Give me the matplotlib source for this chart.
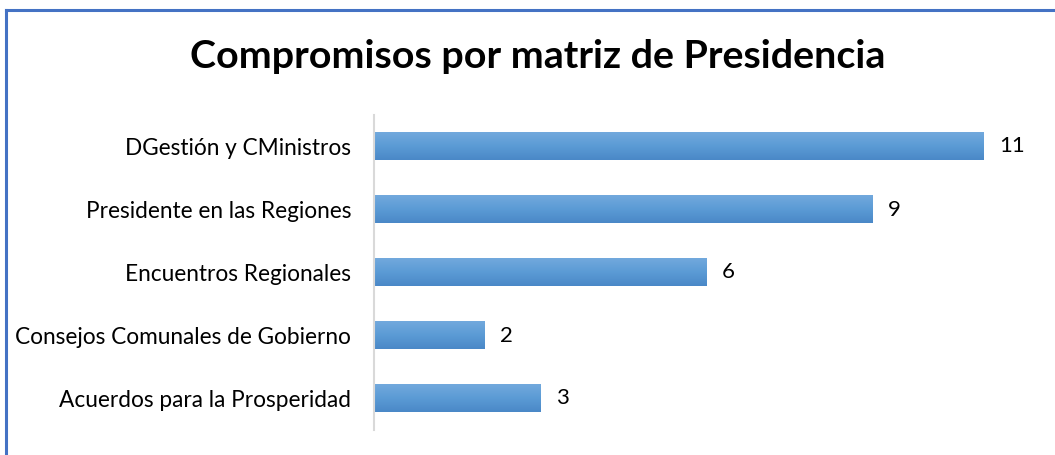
import matplotlib.pyplot as plt
import numpy as np
from matplotlib.colors import LinearSegmentedColormap
from matplotlib.lines import Line2D

# Data (top to bottom as shown)
categories = ['DGestión y CMinistros', 'Presidente en las Regiones',
              'Encuentros Regionales', 'Consejos Comunales de Gobierno',
              'Acuerdos para la Prosperidad']
values = [11, 9, 6, 2, 3]
title = 'Compromisos por matriz de Presidencia'

plt.rcParams['font.family'] = ['Lato', 'DejaVu Sans']

fig = plt.figure(figsize=(10.55, 4.55), dpi=100)
ax = fig.add_axes([374 / 1055, 1 - 430 / 455, 665 / 1055, 315 / 455])

# gradient bars: lighter at top, darker at bottom
cmap = LinearSegmentedColormap.from_list('bar', ['#4a88c7', '#5b9bd5', '#72a9dd'])
grad = np.linspace(0, 1, 64).reshape(-1, 1)
y = np.arange(len(categories))[::-1]
h = 0.43
for yi, v in zip(y, values):
    ax.imshow(grad, cmap=cmap, aspect='auto', origin='lower',
              extent=(0, v, yi - h / 2, yi + h / 2), zorder=2)
    ax.text(v + 0.28, yi, str(v), va='center', ha='left', fontsize=16, color='#000000')

ax.set_xlim(0, 12)
ax.set_ylim(-0.5, len(categories) - 0.5)
ax.set_yticks(y)
ax.set_yticklabels(categories, fontsize=16.3)
ax.tick_params(axis='y', length=0, pad=16.5)
ax.set_xticks([])
for s in ['top', 'right', 'bottom']:
    ax.spines[s].set_visible(False)
ax.spines['left'].set_color('#d9d9d9')
ax.spines['left'].set_linewidth(1.5)

fig.text(538 / 1055, 1 - 57 / 455, title, ha='center', va='center',
         fontsize=28.4, fontweight='bold')

# chart frame: only top and left edges visible
fig.add_artist(Line2D([6 / 1055, 1], [1 - 9.5 / 455] * 2, color='#4472c4', lw=2.2,
                      transform=fig.transFigure))
fig.add_artist(Line2D([6 / 1055] * 2, [0, 1 - 9.5 / 455], color='#4472c4', lw=2.2,
                      transform=fig.transFigure))

fig.savefig('out.png', dpi=100, facecolor='white')
